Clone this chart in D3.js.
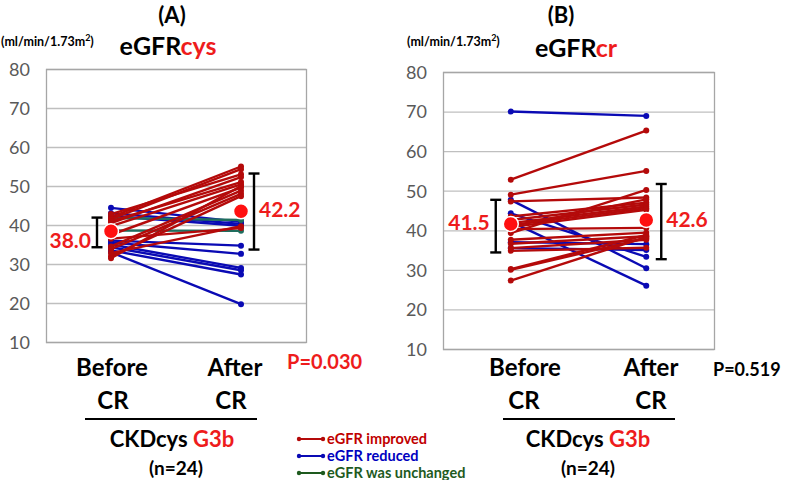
<!DOCTYPE html>
<html>
<head>
<meta charset="utf-8">
<script src="https://cdn.jsdelivr.net/npm/d3@7"></script>
<style>
  html, body { margin: 0; padding: 0; background: #fff; }
  svg { display: block; font-family: Lato, "Open Sans", sans-serif; }
</style>
</head>
<body>
<svg id="chart" width="787" height="480"></svg>
<script>
// ---------- DATA ----------
const categories = ["Before CR", "After CR"];
const yTicks = [10, 20, 30, 40, 50, 60, 70, 80];

// Panel A: eGFRcys  [before, after]
const improvedA = [
  [42.0, 55.0], [41.5, 54.3], [42.8, 53.0], [40.5, 52.3], [41.0, 51.0],
  [39.7, 50.4], [37.5, 49.6], [34.5, 48.8], [33.8, 48.0], [32.0, 47.4],
  [31.5, 50.0], [32.8, 39.7], [36.5, 39.2]
];
const reducedA = [
  [44.4, 40.8], [43.0, 40.3], [42.3, 39.8], [36.0, 34.7], [35.5, 32.6],
  [35.0, 29.0], [34.3, 28.4], [33.5, 27.3], [33.0, 19.7]
];
const unchangedA = [[41.8, 41.3], [38.6, 38.5]];
const meanA = [38.4, 43.5];
const meanLabelA = ["38.0", "42.2"];
const errLowA = [34.3, 33.7];
const errHighA = [41.9, 53.2];

// Panel B: eGFRcr  [before, after]
const improvedB = [
  [52.8, 65.2], [49.0, 55.0], [47.3, 48.3], [43.5, 47.0], [42.6, 46.5],
  [41.8, 46.0], [41.3, 45.6], [40.8, 45.2], [40.3, 40.6], [39.3, 50.2],
  [41.0, 47.8], [37.6, 39.4], [36.6, 38.5], [35.5, 37.6], [34.8, 35.6],
  [30.2, 38.8], [30.0, 38.0], [27.3, 38.3]
];
const reducedB = [
  [70.0, 68.9], [47.7, 30.4], [44.3, 33.3], [42.2, 26.0], [37.0, 36.5], [35.5, 35.0]
];
const unchangedB = [];
const meanB = [41.6, 42.6];
const meanLabelB = ["41.5", "42.6"];
const errLowB = [34.4, 32.7];
const errHighB = [47.7, 51.7];

const legendLabels = ["eGFR improved", "eGFR reduced", "eGFR was unchanged"];

// ---------- STYLE ----------
const C_RED_LINE = "#B40A0A";
const C_BLUE_LINE = "#0A0AB4";
const C_GREEN_LINE = "#1F6E5E";
const C_LABEL_RED = "#EE1C1C";
const C_GRID = "#BFBFBF";
const C_TICK = "#595959";

const svg = d3.select("#chart");

function drawPanel(cfg) {
  const g = svg.append("g");
  const x = d3.scalePoint().domain(categories).range([cfg.left, cfg.right]).padding(0.5);
  const y = d3.scaleLinear().domain([10, 80]).range([cfg.bottom, cfg.top]);

  // grid
  g.selectAll("line.grid").data(yTicks).enter().append("line")
    .attr("x1", cfg.left).attr("x2", cfg.right)
    .attr("y1", d => y(d) + 0.5).attr("y2", d => y(d) + 0.5)
    .attr("stroke", C_GRID).attr("stroke-width", 1.3);
  g.append("rect")
    .attr("x", cfg.left + 0.5).attr("y", y(80) + 0.5)
    .attr("width", cfg.right - cfg.left).attr("height", y(10) - y(80))
    .attr("fill", "none").attr("stroke", "#A6A6A6").attr("stroke-width", 1.3);

  // y axis labels
  const yAxis = d3.axisLeft(y).tickValues(yTicks).tickSize(0).tickPadding(0);
  const ax = g.append("g").attr("transform", `translate(${cfg.tickRight},0)`).call(yAxis);
  ax.select(".domain").remove();
  ax.selectAll("text").attr("fill", C_TICK).style("font-size", "18px")
    .style("font-family", "Lato, 'Open Sans', sans-serif").attr("dy", "0.35em");

  // paired lines
  function drawSet(data, color) {
    const sg = g.append("g");
    data.forEach(pair => {
      const pts = pair.map((v, i) => [x(categories[i]), y(v)]);
      sg.append("path").attr("d", d3.line()(pts))
        .attr("stroke", color).attr("stroke-width", 2.4).attr("fill", "none");
      pts.forEach(p => sg.append("circle").attr("cx", p[0]).attr("cy", p[1]).attr("r", 3).attr("fill", color));
    });
  }
  drawSet(cfg.reduced, C_BLUE_LINE);
  drawSet(cfg.unchanged, C_GREEN_LINE);
  drawSet(cfg.improved, C_RED_LINE);

  // error bars
  categories.forEach((c, i) => {
    const bx = x(c) + cfg.errOffset[i];
    const e = g.append("g").attr("stroke", "#000").attr("stroke-width", 2.4);
    e.append("line").attr("x1", bx).attr("x2", bx).attr("y1", y(cfg.errHigh[i])).attr("y2", y(cfg.errLow[i]));
    e.append("line").attr("x1", bx - 5.5).attr("x2", bx + 5.5).attr("y1", y(cfg.errHigh[i])).attr("y2", y(cfg.errHigh[i]));
    e.append("line").attr("x1", bx - 5.5).attr("x2", bx + 5.5).attr("y1", y(cfg.errLow[i])).attr("y2", y(cfg.errLow[i]));
  });

  // mean markers
  categories.forEach((c, i) => {
    g.append("circle").attr("cx", x(c)).attr("cy", y(cfg.mean[i])).attr("r", 7.5)
      .attr("fill", "#FF1010").attr("stroke", "#fff").attr("stroke-width", 1.5);
  });
  // mean labels
  g.append("text").attr("x", x(categories[0]) + cfg.errOffset[0] - 6).attr("y", y(cfg.meanLabelY[0]))
    .attr("dy", "0.35em").attr("text-anchor", "end").attr("fill", C_LABEL_RED)
    .style("font-size", "21px").style("font-weight", "bold").text(cfg.meanLabel[0]);
  g.append("text").attr("x", x(categories[1]) + cfg.errOffset[1] + 5).attr("y", y(cfg.meanLabelY[1]))
    .attr("dy", "0.35em").attr("text-anchor", "start").attr("fill", C_LABEL_RED)
    .style("font-size", "21px").style("font-weight", "bold").text(cfg.meanLabel[1]);

  // titles
  svg.append("text").attr("x", cfg.letterX).attr("y", 23).attr("text-anchor", "middle")
    .style("font-size", "22px").style("font-weight", "bold").attr("fill", "#000").text(cfg.letter);
  const unit = svg.append("text").attr("x", cfg.unitX).attr("y", 46)
    .style("font-size", "12.5px").style("font-weight", "bold").attr("fill", "#000");
  unit.append("tspan").text("(ml/min/1.73m");
  unit.append("tspan").attr("dy", -5).style("font-size", "9px").text("2");
  unit.append("tspan").attr("dy", 5).text(")");
  const t = svg.append("text").attr("x", cfg.titleX).attr("y", cfg.titleY).attr("text-anchor", "middle")
    .style("font-size", "25px").style("font-weight", "bold");
  t.append("tspan").attr("fill", "#000").text("eGFR");
  t.append("tspan").attr("fill", C_LABEL_RED).text(cfg.titleRed);

  // category labels
  const catParts = categories.map(c => c.split(" "));
  catParts.forEach((parts, i) => {
    svg.append("text").attr("x", cfg.catX[i][0]).attr("y", 376).attr("text-anchor", "middle")
      .style("font-size", "24px").style("font-weight", "bold").attr("fill", "#000").text(parts[0]);
    svg.append("text").attr("x", cfg.catX[i][1]).attr("y", 409).attr("text-anchor", "middle")
      .style("font-size", "24px").style("font-weight", "bold").attr("fill", "#000").text(parts[1]);
  });
  svg.append("line").attr("x1", cfg.ulX[0]).attr("x2", cfg.ulX[1]).attr("y1", 419).attr("y2", 419)
    .attr("stroke", "#000").attr("stroke-width", 2.2);
  const sub = svg.append("text").attr("x", cfg.subX).attr("y", 447).attr("text-anchor", "middle")
    .style("font-size", "22px").style("font-weight", "bold");
  sub.append("tspan").attr("fill", "#000").text("CKDcys ");
  sub.append("tspan").attr("fill", C_LABEL_RED).text("G3b");
  svg.append("text").attr("x", cfg.nX).attr("y", 475).attr("text-anchor", "middle")
    .style("font-size", "19px").style("font-weight", "bold").attr("fill", "#000").text("(n=24)");

  // p value
  svg.append("text").attr("x", cfg.pX).attr("y", cfg.pY)
    .style("font-size", cfg.pSize).style("font-weight", "bold").attr("fill", cfg.pColor).text(cfg.pText);
}

drawPanel({
  left: 46, right: 306, top: 69, bottom: 342, tickRight: 30,
  improved: improvedA, reduced: reducedA, unchanged: unchangedA,
  mean: meanA, meanLabel: meanLabelA, meanLabelY: [36.0, 44.0],
  errLow: errLowA, errHigh: errHighA, errOffset: [-14, 13],
  letter: "(A)", letterX: 172, unitX: 1, titleX: 168, titleY: 55, titleRed: "cys",
  catX: [[112, 113], [235, 231]], ulX: [85, 257], subX: 172, nX: 176,
  pText: "P=0.030", pX: 287, pY: 369, pSize: "20px", pColor: C_LABEL_RED
});

drawPanel({
  left: 443, right: 714, top: 72, bottom: 349, tickRight: 427,
  improved: improvedB, reduced: reducedB, unchanged: unchangedB,
  mean: meanB, meanLabel: meanLabelB, meanLabelY: [42.0, 42.6],
  errLow: errLowB, errHigh: errHighB, errOffset: [-15, 15],
  letter: "(B)", letterX: 561, unitX: 407, titleX: 576, titleY: 57, titleRed: "cr",
  catX: [[525, 524], [651, 651]], ulX: [503, 675], subX: 588, nX: 588,
  pText: "P=0.519", pX: 713, pY: 376, pSize: "18px", pColor: "#000"
});

// legend
const legendColors = [C_RED_LINE, C_BLUE_LINE, "#1E5A1E"];
const legendTextColors = ["#C00000", "#0000C0", "#1E5A1E"];
const lg = svg.append("g");
legendLabels.forEach((lab, i) => {
  const ly = 439 + i * 17;
  lg.append("line").attr("x1", 299).attr("x2", 323).attr("y1", ly).attr("y2", ly)
    .attr("stroke", legendColors[i]).attr("stroke-width", 2);
  lg.append("circle").attr("cx", 299).attr("cy", ly).attr("r", 2.2).attr("fill", legendColors[i]);
  lg.append("circle").attr("cx", 323).attr("cy", ly).attr("r", 2.2).attr("fill", legendColors[i]);
  lg.append("text").attr("x", 327).attr("y", ly).attr("dy", "0.35em")
    .style("font-size", "14.5px").style("font-weight", "bold").attr("fill", legendTextColors[i]).text(lab);
});
</script>
</body>
</html>
